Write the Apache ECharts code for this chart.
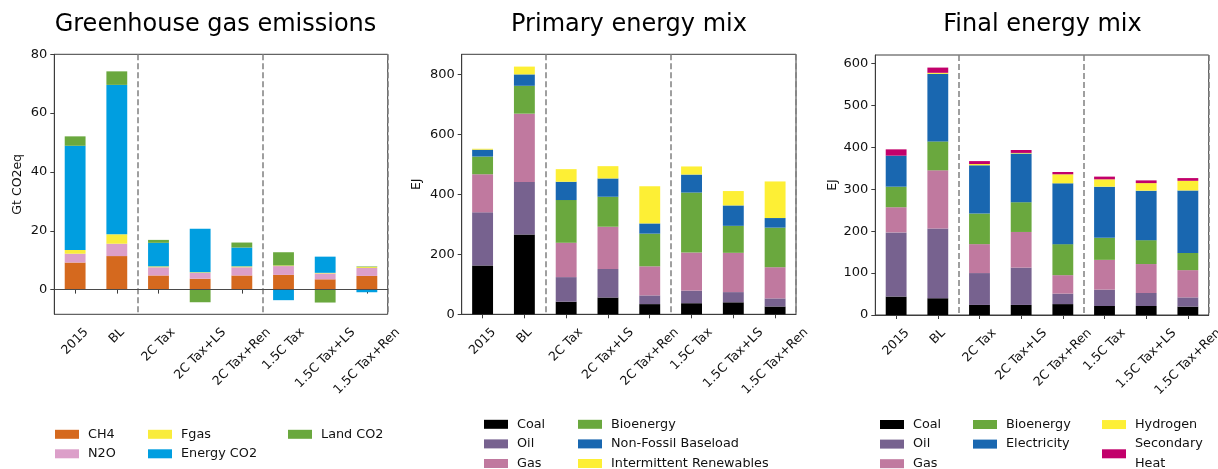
<!DOCTYPE html>
<html>
<head>
<meta charset="utf-8">
<script src="https://cdn.jsdelivr.net/npm/echarts@6/dist/echarts.min.js"></script>
<style>
  html, body { margin: 0; padding: 0; background: #fff; }
  #chart { width: 1218px; height: 469px; }
</style>
</head>
<body>
<div id="chart"></div>
<script>
// Scenarios shown on every panel
const categories = ['2015', 'BL', '2C Tax', '2C Tax+LS', '2C Tax+Ren', '1.5C Tax', '1.5C Tax+LS', '1.5C Tax+Ren'];

// Greenhouse gas emissions (Gt CO2eq)
const ghgCH4      = [9.2, 11.4, 4.8, 3.7, 4.8, 5.0, 3.5, 4.65];
const ghgN2O      = [3.0, 4.2, 2.8, 2.0, 2.8, 3.0, 2.0, 2.7];
const ghgFgas     = [1.3, 3.2, 0.3, 0.2, 0.3, 0.2, 0.2, 0.3];
const ghgEnergyCO2 = [35.4, 50.8, 8.0, 14.8, 6.4, -3.6, 5.5, -0.9];
const ghgLandCO2  = [3.2, 4.6, 1.0, -4.3, 1.7, 4.5, -4.4, 0.2];

// Primary energy mix (EJ)
const peCoal         = [163, 266, 42, 56, 34, 37, 40, 26];
const peOil          = [177, 175, 82, 95, 29, 42, 34, 27];
const peGas          = [127, 228, 115, 141, 97, 127, 131, 104];
const peBioenergy    = [59, 93, 142, 100, 109, 200, 90, 132];
const peNonFossil    = [23, 38, 61, 61, 34, 60, 68, 32];
const peIntermittent = [3, 26, 42, 41, 124, 27, 48, 122];

// Final energy mix (EJ)
const feCoal        = [44, 40, 24, 24, 26, 21.5, 21.5, 20];
const feOil         = [153, 166, 76, 89, 25, 39, 31, 22];
const feGas         = [60, 139, 69, 85, 44, 71, 69, 65];
const feBioenergy   = [49, 69, 73, 71, 74, 52.5, 57, 41];
const feElectricity = [74, 161, 115, 116, 145, 122, 118, 149];
const feHydrogen    = [0, 2.5, 3, 1.5, 21.5, 17.5, 18, 23];
const feHeat        = [15, 12.5, 7, 7, 5.5, 6.5, 6.5, 6.5];

// Y tick labels
const ghgTicks = [0, 20, 40, 60, 80];
const peTicks  = [0, 200, 400, 600, 800];
const feTicks  = [0, 100, 200, 300, 400, 500, 600];

const FONT = '"DejaVu Sans", sans-serif';
const TICK_SIZE = 12.5;
const C = {
  ch4: '#d5691e', n2o: '#dc9fc9', fgas: '#f9ec3b', eco2: '#009ee0', lco2: '#6aa83e',
  coal: '#000000', oil: '#77628f', gas: '#c0799f', bio: '#6aa83e', blue: '#1967b0',
  yellow: '#fdef35', heat: '#c2006b'
};

// Rotated tick labels are centred under their tick: pad each label so its
// rotated box hangs from a common top line.
const measureCtx = document.createElement('canvas').getContext('2d');
measureCtx.font = TICK_SIZE + 'px "DejaVu Sans"';
const catRich = {};
categories.forEach((c, i) => {
  const w = measureCtx.measureText(c).width;
  catRich['c' + i] = { padding: [w / 2, w / 2, 0, 0], fontSize: TICK_SIZE, fontFamily: FONT, color: '#111' };
});

const grids = [
  { left: 54.3, top: 54.3, width: 333.4, height: 260 },
  { left: 461.7, top: 54.3, width: 334.3, height: 260 },
  { left: 875.3, top: 55, width: 333.4, height: 260 }
].map(g => Object.assign(g, {
  show: true, borderColor: '#3c3c3c', borderWidth: 1, backgroundColor: 'transparent',
  containLabel: false, outerBoundsMode: 'none'
}));

function xAxis(gridIndex) {
  return {
    type: 'category', gridIndex, data: categories, boundaryGap: true,
    axisLine: { show: true, lineStyle: { color: '#3c3c3c', width: 1 } },
    axisTick: { show: true, alignWithLabel: true, length: 4, lineStyle: { color: '#3c3c3c' } },
    axisLabel: {
      interval: 0, rotate: 45, align: 'center', verticalAlign: 'middle', margin: 16,
      formatter: (v, i) => '{c' + i + '|' + v + '}', rich: catRich
    },
    splitLine: {
      show: true, interval: (i) => i === 2 || i === 5,
      lineStyle: { color: '#808080', type: [6, 3], width: 1.5 }
    }
  };
}

function yAxis(gridIndex, min, max, ticks, name, nameGap) {
  return {
    type: 'value', gridIndex, min, max,
    name, nameLocation: 'middle', nameRotate: 90, nameGap,
    nameTextStyle: { fontSize: 12.5, fontFamily: FONT, color: '#111' },
    axisLine: { show: true, lineStyle: { color: '#3c3c3c', width: 1 } },
    axisTick: { show: true, length: 4, customValues: ticks, lineStyle: { color: '#3c3c3c' } },
    axisLabel: { customValues: ticks, fontSize: 13, fontFamily: FONT, color: '#111', margin: 7 },
    splitLine: { show: false }
  };
}

function bars(name, data, color, axisIndex, stack) {
  return {
    type: 'bar', name, data, stack, barWidth: '50%',
    xAxisIndex: axisIndex, yAxisIndex: axisIndex,
    itemStyle: { color }, emphasis: { disabled: true }, animation: false
  };
}

const ghgSeries = [
  bars('CH4', ghgCH4, C.ch4, 0, 'ghg'),
  bars('N2O', ghgN2O, C.n2o, 0, 'ghg'),
  bars('Fgas', ghgFgas, C.fgas, 0, 'ghg'),
  bars('Energy CO2', ghgEnergyCO2, C.eco2, 0, 'ghg'),
  bars('Land CO2', ghgLandCO2, C.lco2, 0, 'ghg')
];
// zero reference line on the emissions panel
ghgSeries[0].markLine = {
  silent: true, symbol: 'none', label: { show: false }, animation: false,
  lineStyle: { color: '#4a4a4a', type: 'solid', width: 1.2 },
  data: [{ yAxis: 0 }]
};

const peSeries = [
  bars('Coal', peCoal, C.coal, 1, 'pe'),
  bars('Oil', peOil, C.oil, 1, 'pe'),
  bars('Gas', peGas, C.gas, 1, 'pe'),
  bars('Bioenergy', peBioenergy, C.bio, 1, 'pe'),
  bars('Non-Fossil Baseload', peNonFossil, C.blue, 1, 'pe'),
  bars('Intermittent Renewables', peIntermittent, C.yellow, 1, 'pe')
];

const feSeries = [
  bars('Coal', feCoal, C.coal, 2, 'fe'),
  bars('Oil', feOil, C.oil, 2, 'fe'),
  bars('Gas', feGas, C.gas, 2, 'fe'),
  bars('Bioenergy', feBioenergy, C.bio, 2, 'fe'),
  bars('Electricity', feElectricity, C.blue, 2, 'fe'),
  bars('Hydrogen', feHydrogen, C.yellow, 2, 'fe'),
  bars('Secondary Heat', feHeat, C.heat, 2, 'fe')
];

function legend(left, top, names, gap, lineHeight) {
  return {
    type: 'plain', orient: 'vertical', left, top, width: 220, height: 120, padding: 0, itemGap: gap,
    itemWidth: 24, itemHeight: 9, icon: 'rect', selectedMode: false,
    data: names,
    formatter: (n) => n === 'Secondary Heat' ? 'Secondary\nHeat' : n,
    textStyle: { fontSize: 12.8, fontFamily: FONT, color: '#111', lineHeight: lineHeight || 15, padding: [0, 0, 0, 4] }
  };
}

const titleStyle = { fontSize: 24, fontFamily: FONT, fontWeight: 'normal', color: '#000' };
function title(text, center) {
  return { text, left: center, top: 12.6, padding: 0, textAlign: 'center', textStyle: titleStyle };
}

const chart = echarts.init(document.getElementById('chart'), null, { renderer: 'canvas' });
chart.setOption({
  animation: false,
  backgroundColor: '#ffffff',
  title: [
    title('Greenhouse gas emissions', 215.5),
    title('Primary energy mix', 629),
    title('Final energy mix', 1042.5)
  ],
  grid: grids,
  xAxis: [xAxis(0), xAxis(1), xAxis(2)],
  yAxis: [
    yAxis(0, -8.4, 80, ghgTicks, 'Gt CO2eq', 30),
    yAxis(1, 0, 867, peTicks, 'EJ', 38.5),
    yAxis(2, 0, 620, feTicks, 'EJ', 36)
  ],
  legend: [
    legend(55, 426.8, ['CH4', 'N2O'], 4.5),
    legend(148, 426.8, ['Fgas', 'Energy CO2'], 4.5),
    legend(288, 426.8, ['Land CO2'], 4.5),
    legend(484, 416.8, ['Coal', 'Oil', 'Gas'], 4.6),
    legend(578, 416.8, ['Bioenergy', 'Non-Fossil Baseload', 'Intermittent Renewables'], 4.6),
    legend(880, 417, ['Coal', 'Oil', 'Gas'], 4.6),
    legend(973, 417, ['Bioenergy', 'Electricity'], 4.6),
    legend(1102, 414.8, ['Hydrogen', 'Secondary Heat'], 0, 19.5)
  ],
  series: [...ghgSeries, ...peSeries, ...feSeries]
});
</script>
</body>
</html>
